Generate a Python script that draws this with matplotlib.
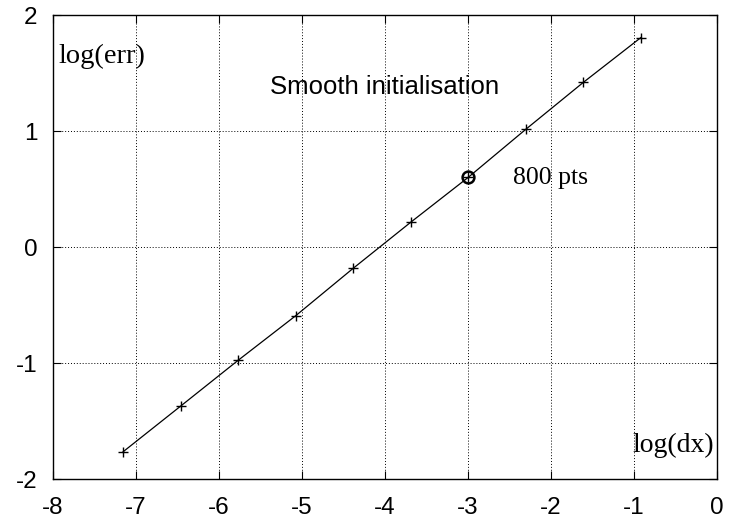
import matplotlib.pyplot as plt

# log(dx) and log(err)
log_dx = [-7.155, -6.461, -5.768, -5.075, -4.382, -3.689, -2.996, -2.303, -1.609, -0.916]
log_err = [-1.765, -1.371, -0.976, -0.592, -0.183, 0.214, 0.601, 1.015, 1.420, 1.806]
# the 800 point run, circled
mark_dx = [-2.996]
mark_err = [0.601]

plt.rcParams['axes.unicode_minus'] = False

fig = plt.figure(figsize=(7.29, 5.21), dpi=100)
ax = fig.add_axes([53 / 729, 1 - 479 / 521, 664 / 729, 464 / 521])

ax.plot(log_dx, log_err, color='black', lw=0.9, marker='+', ms=7.5, mew=1.0)
ax.plot(mark_dx, mark_err, ls='none', marker='o', ms=8.5, mfc='none', mec='black', mew=1.8)

ax.set_xlim(-8, 0)
ax.set_ylim(-2, 2)
ax.set_xticks(range(-8, 1))
ax.set_yticks(range(-2, 3))
ax.grid(True, color='black', ls=(0, (1, 2)), lw=0.7)
ax.tick_params(direction='in', length=6, width=0.8, labelsize=17.5,
               top=True, right=True)
ax.tick_params(axis='x', pad=13)
ax.tick_params(axis='y', pad=11)
for lab in ax.get_xticklabels() + ax.get_yticklabels():
    lab.set_family('Liberation Sans')
for sp in ax.spines.values():
    sp.set_linewidth(1.0)

serif = 'Liberation Serif'
ax.text(-7.93, 1.64, 'log(err)', family=serif, fontsize=20.5, ha='left', va='center')
ax.text(-4.0, 1.38, 'Smooth initialisation', family='Liberation Sans', fontsize=18.5,
        ha='center', va='center')
ax.text(-2.46, 0.595, '800 pts', family=serif, fontsize=18.5, ha='left', va='center')
ax.text(-0.03, -1.71, 'log(dx)', family=serif, fontsize=20, ha='right', va='center')

fig.savefig('out.png', dpi=100)
